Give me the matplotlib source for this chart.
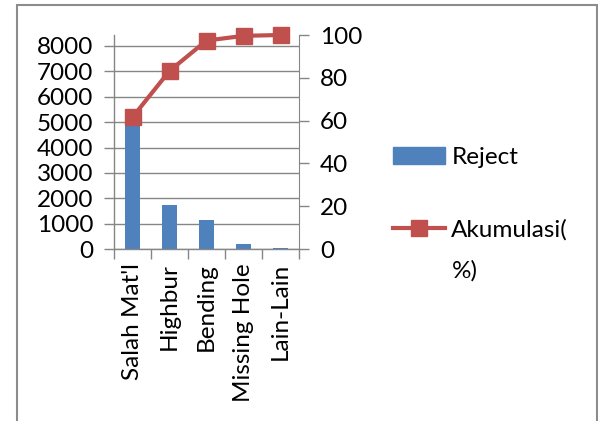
import matplotlib.pyplot as plt
from matplotlib.patches import Rectangle
from matplotlib.lines import Line2D

plt.rcParams['font.family'] = ['Lato', 'DejaVu Sans']

categories = ["Salah Mat'l", "Highbur", "Bending", "Missing Hole", "Lain-Lain"]
reject = [4966, 1734, 1143, 185, 30]
akumulasi = [61.6, 83.2, 97.4, 99.6, 100.0]
left_ticks = [0, 1000, 2000, 3000, 4000, 5000, 6000, 7000, 8000]
right_ticks = [0, 20, 40, 60, 80, 100]

bar_color = '#4F81BD'
line_color = '#C0504D'
axis_grey = '#868686'
fs = 17.5

fig = plt.figure(figsize=(5.98, 4.21), dpi=100)
# chart border
fig.add_artist(Rectangle((17 / 598, -0.05), 580 / 598, 1.05 - 5 / 421,
                         transform=fig.transFigure, fill=False,
                         edgecolor='#8c8c8c', linewidth=1.5))

ax = fig.add_axes([114 / 598, (421 - 249) / 421, 185 / 598, 214 / 421])
x = range(len(categories))
ax.bar(x, reject, width=0.4, color=bar_color, zorder=2)
ax.set_xlim(-0.5, len(categories) - 0.5)
ax.set_ylim(0, 8000 * 214 / 203)
ax.set_yticks(left_ticks)
ax.set_yticklabels([str(v) for v in left_ticks], fontsize=fs)
ax.yaxis.grid(True, color=axis_grey, linewidth=1)
ax.set_axisbelow(True)
ax.set_xticks([i + 0.5 for i in range(-1, len(categories))])
ax.set_xticklabels([])
ax.set_xticks(list(x), minor=True)
ax.set_xticklabels(categories, minor=True, rotation=90, fontsize=fs)
ax.tick_params(axis='x', which='minor', length=0, pad=10)
ax.tick_params(axis='x', which='major', length=7, color=axis_grey, width=1)
ax.tick_params(axis='y', length=7, color=axis_grey, width=1, pad=8)
for s in ['top', 'right']:
    ax.spines[s].set_visible(False)
for s in ['left', 'bottom']:
    ax.spines[s].set_color(axis_grey)
    ax.spines[s].set_linewidth(1)

ax2 = ax.twinx()
ax2.plot(list(x), akumulasi, color=line_color, linewidth=3, marker='s',
         markersize=11, zorder=3, clip_on=False)
ax2.set_ylim(0, 100)
ax2.set_yticks(right_ticks)
ax2.set_yticklabels([str(v) for v in right_ticks], fontsize=fs)
ax2.tick_params(axis='y', length=7, color=axis_grey, width=1, pad=8)
for s in ['top', 'left', 'bottom']:
    ax2.spines[s].set_visible(False)
ax2.spines['right'].set_color(axis_grey)

handles = [Rectangle((0, 0), 1, 1, color=bar_color),
           Line2D([], [], color=line_color, linewidth=3, marker='s', markersize=12)]
fig.legend(handles, ['Reject', 'Akumulasi('], loc='upper left',
           bbox_to_anchor=(393 / 598, 1 - 147 / 421), frameon=False,
           fontsize=fs, handlelength=2.15, handletextpad=0.25, labelspacing=2.1,
           borderpad=0, borderaxespad=0)
fig.text(452 / 598, 1 - 271 / 421, '%)', fontsize=fs, va='center', ha='left')

fig.savefig('out.png', dpi=100)
